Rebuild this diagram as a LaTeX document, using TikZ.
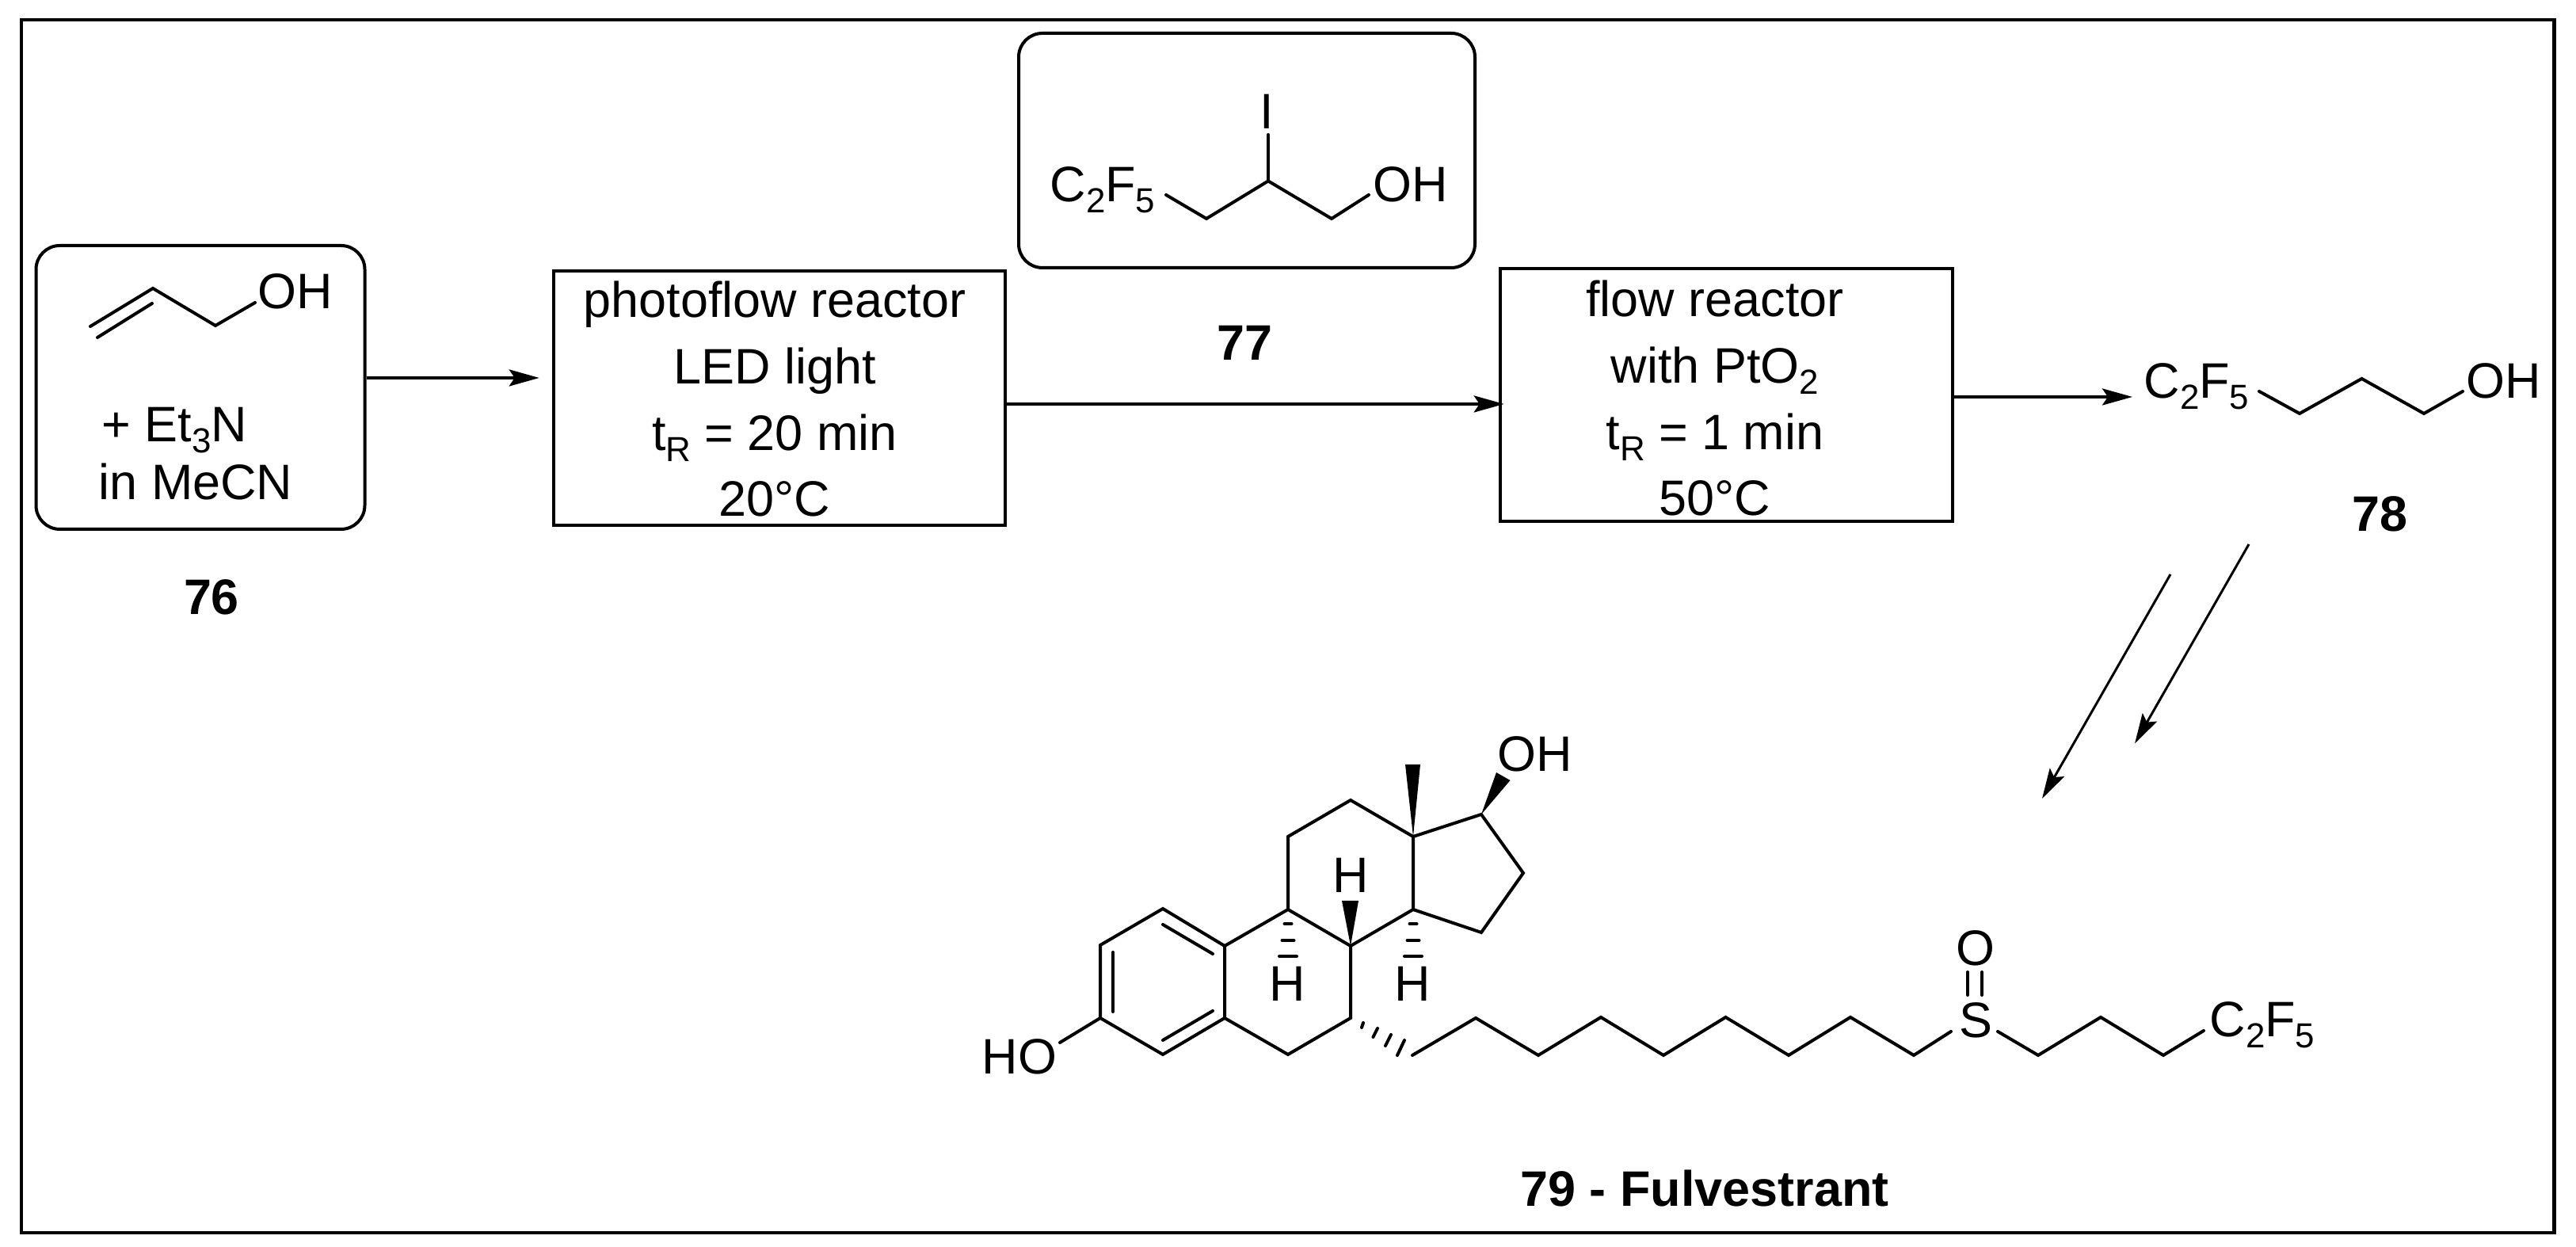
\documentclass[tikz,border=0pt]{standalone}
\usepackage{fontspec}
\setmainfont{Liberation Sans}
\usetikzlibrary{arrows.meta}
\newcommand{\subs}[1]{\raisebox{-0.14cm}{\fontsize{12.5}{12.5}\selectfont #1}}
\tikzset{
	bond/.style={line width=0.04cm, line cap=round, line join=miter},
	wedge/.style={fill=black, draw=none},
	atom/.style={inner sep=0, anchor=base, font=\fontsize{17.9}{23.8}\selectfont},
	num/.style={inner sep=0, anchor=base, font=\fontsize{17.9}{23.8}\selectfont\bfseries},
	reactor/.style={draw, line width=0.045cm, inner sep=0},
	feed/.style={draw, line width=0.04cm, rounded corners=0.3cm, inner sep=0},
	reactortext/.style={inner sep=0, align=center, font=\fontsize{17.9}{23.8}\selectfont},
	rxn/.style={line width=0.04cm, -{Stealth[length=0.38cm, width=0.21cm, inset=0.07cm]}},
	rxnthin/.style={line width=0.03cm, -{Stealth[length=0.38cm, width=0.21cm, inset=0.07cm]}}
}
\begin{document}
\begin{tikzpicture}
	\useasboundingbox (0,0) rectangle (32.52,15.74);
	\draw[line width=0.045cm] (0.27,0.18) rectangle (32.245,15.49);

	\node[feed, minimum width=4.15cm, minimum height=3.58cm] (sm) at (2.53,10.85) {};
	\node[feed, minimum width=5.76cm, minimum height=2.96cm] (reagent) at (15.74,13.84) {};
	\node[reactor, minimum width=5.70cm, minimum height=3.21cm] (photo) at (9.84,10.715) {};
	\node[reactor, minimum width=5.71cm, minimum height=3.19cm] (flow) at (21.795,10.755) {};
	\node[reactortext] (photolbl) at (9.78,10.70) {photoflow reactor\\LED light\\t\subs{R} = 20 min\\20°C};
	\node[reactortext] (flowlbl) at (21.65,10.71) {flow reactor\\with PtO\subs{2}\\t\subs{R} = 1 min\\50°C};

	\node[atom] (ohsm) at (3.73,11.84) {OH};
	\node[atom, anchor=base west] (et) at (1.28,10.16) {+ Et\subs{3}N};
	\node[atom, anchor=base west] (mecn) at (1.24,9.43) {in MeCN};
	\node[num] (n76) at (2.67,7.98) {76};

	\node[atom] (cfa) at (13.92,13.19) {C\subs{2}F\subs{5}};
	\node[atom] (ohb) at (17.81,13.19) {OH};
	\node[atom] (iod) at (15.99,14.11) {I};
	\node[num] (n77) at (15.71,11.19) {77};

	\node[atom] (cfb) at (27.73,10.71) {C\subs{2}F\subs{5}};
	\node[atom] (ohc) at (31.61,10.71) {OH};
	\node[num] (n78) at (30.04,9.03) {78};

	\node[atom] (ho) at (12.87,2.18) {HO};
	\node[atom] (ohd) at (19.38,6.00) {OH};
	\node[atom] (ha) at (17.05,4.47) {H};
	\node[atom] (hb) at (16.25,3.10) {H};
	\node[atom] (hc) at (17.83,3.10) {H};
	\node[atom] (sul) at (24.94,2.64) {S};
	\node[atom] (oxy) at (24.94,3.55) {O};
	\node[atom] (cfc) at (28.56,2.65) {C\subs{2}F\subs{5}};
	\node[num] (n79) at (21.52,0.51) {79 - Fulvestrant};

	\coordinate (p78) at (26.92,10.73);
	\coordinate (dla) at (27.40,8.49);
	\coordinate (dlb) at (25.78,5.66);
	\coordinate (dra) at (28.39,8.87);
	\coordinate (drb) at (26.95,6.355);
	\draw[rxn] ([yshift=0.12cm]sm.east) -- ([xshift=-0.16cm,yshift=0.255cm]photo.west);
	\draw[rxn] ([yshift=-0.075cm]photo.east) -- ([xshift=0.07cm,yshift=-0.115cm]flow.west);
	\draw[rxn] (flow.east |- p78) -- (p78);
	\draw[rxnthin] (dla) -- (dlb);
	\draw[rxnthin] (dra) -- (drb);

	\draw[bond] (1.14,11.62) -- (1.93,12.10) -- (2.72,11.63) -- (3.22,11.92);
	\draw[bond] (1.23,11.48) -- (1.92,11.91);

	\draw[bond] (14.72,13.28) -- (15.23,12.98) -- (16.01,13.455) -- (16.81,12.98) -- (17.28,13.28);
	\draw[bond] (16.01,13.455) -- (16.01,14.04);

	\draw[bond] (28.52,10.80) -- (29.03,10.52) -- (29.815,10.96) -- (30.60,10.52) -- (31.09,10.80);

	\draw[bond] (13.89,3.81) -- (14.68,4.27) -- (15.46,3.80) -- (15.46,2.89) -- (14.68,2.43) -- (13.89,2.89) -- cycle;
	\draw[bond] (14.05,3.72) -- (14.05,2.97);
	\draw[bond] (14.68,4.07) -- (15.31,3.70);
	\draw[bond] (15.31,2.98) -- (14.68,2.61);
	\draw[bond] (13.89,2.89) -- (13.38,2.58);
	\draw[bond] (15.46,3.80) -- (16.26,4.26) -- (17.05,3.80) -- (17.05,2.89) -- (16.26,2.43) -- (15.46,2.89);
	\draw[bond] (16.26,4.26) -- (16.26,5.18) -- (17.05,5.64) -- (17.84,5.18) -- (17.84,4.26) -- (17.05,3.80);
	\draw[bond] (17.84,5.18) -- (18.70,5.46) -- (19.23,4.72) -- (18.70,3.97) -- (17.84,4.26);

	\fill[wedge] (17.84,5.18) -- (17.74,6.09) -- (17.93,6.09) -- cycle;
	\fill[wedge] (18.70,5.46) -- (18.89,5.99) -- (19.065,5.89) -- cycle;
	\fill[wedge] (17.05,3.80) -- (16.94,4.37) -- (17.15,4.37) -- cycle;

	\foreach \x in {16.26,17.84} {
		\draw[bond] (\x-0.045,4.08) -- (\x+0.045,4.08);
		\draw[bond] (\x-0.075,3.87) -- (\x+0.075,3.87);
		\draw[bond] (\x-0.11,3.67) -- (\x+0.11,3.67);
	}
	\draw[bond] (17.21,2.83) -- (17.19,2.77);
	\draw[bond] (17.39,2.76) -- (17.335,2.65);
	\draw[bond] (17.56,2.68) -- (17.49,2.54);
	\draw[bond] (17.73,2.61) -- (17.64,2.42);

	\draw[bond] (17.83,2.42) -- (18.63,2.89) -- (19.42,2.42) -- (20.21,2.90) -- (21.00,2.42) -- (21.785,2.90) -- (22.58,2.42) -- (23.36,2.90) -- (24.16,2.42) -- (24.63,2.72);
	\draw[bond] (25.22,2.72) -- (25.73,2.42) -- (26.52,2.90) -- (27.31,2.42) -- (27.82,2.73);
	\draw[bond] (24.84,3.47) -- (24.84,3.18);
	\draw[bond] (25.02,3.47) -- (25.02,3.18);
\end{tikzpicture}
\end{document}
